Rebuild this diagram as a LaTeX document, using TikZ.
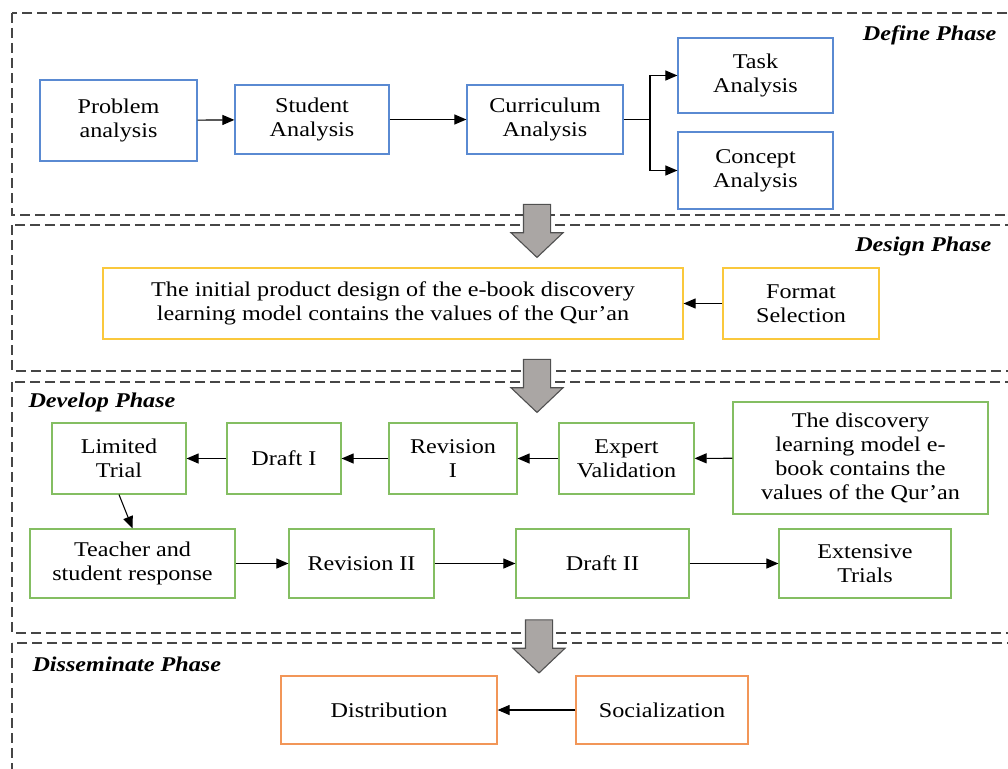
\documentclass[tikz,border=0pt]{standalone}
\usepackage{fontspec}
\setmainfont{Liberation Serif}[FakeStretch=1.15]
\usepackage{xcolor}
\usepackage{tikz}
\usetikzlibrary{shapes,shapes.arrows,arrows.meta,calc,positioning}
\definecolor{defblue}{RGB}{90,138,210}
\definecolor{desyellow}{RGB}{250,200,60}
\definecolor{devgreen}{RGB}{132,190,98}
\definecolor{disorange}{RGB}{242,150,88}
\definecolor{dashgray}{RGB}{70,70,70}
\definecolor{arrowgray}{RGB}{170,166,164}
\definecolor{arrowedge}{RGB}{80,80,80}
\tikzset{
  box/.style={draw, fill=white, align=center, line width=1.2pt, inner sep=2pt, font=\fontsize{21}{24}\selectfont},
  defbox/.style={box, draw=defblue},
  desbox/.style={box, draw=desyellow},
  devbox/.style={box, draw=devgreen},
  disbox/.style={box, draw=disorange},
  phasebox/.style={draw=dashgray, dash pattern=on 10pt off 5pt, line width=1.4pt},
  phase/.style={font=\fontsize{21}{24}\selectfont\bfseries\itshape, inner sep=0pt},
  bigarrow/.style={single arrow, draw=arrowedge, fill=arrowgray, line width=1.1pt, shape border rotate=270,
    minimum height=53pt, minimum width=51pt, single arrow head extend=12.5pt, single arrow tip angle=93, inner sep=13pt}
}
\begin{document}
\begin{tikzpicture}[x=1pt,y=-1pt,>={Triangle[length=12pt,width=10pt]},line width=1.1pt]
    \useasboundingbox (0,0) rectangle (1008,768);
    \clip (0,0) rectangle (1008,768);
    % phase frames
    \draw[phasebox] (12,13) rectangle (1020,215);
    \draw[phasebox] (12,225) rectangle (1020,371);
    \draw[phasebox] (12,382) rectangle (1020,633);
    \draw[phasebox] (12,643) rectangle (1020,790);
    \node[phase,anchor=east] (P1) at (997,35) {Define Phase};
    \node[phase,anchor=east] (P2) at (992,246) {Design Phase};
    \node[phase,anchor=west] (P3) at (28,402) {Develop Phase};
    \node[phase,anchor=west] (P4) at (32,664) {Disseminate Phase};
    % define
    \node (PA) [defbox,minimum width=157pt,minimum height=81pt] at (118.5,120.5) {Problem\\analysis};
    \node (SA) [defbox,minimum width=154pt,minimum height=69pt] at (312,119.5) {Student\\Analysis};
    \node (CA) [defbox,minimum width=156pt,minimum height=69pt] at (545,119.5) {Curriculum\\Analysis};
    \node (TA) [defbox,minimum width=155pt,minimum height=75pt] at (755.5,75.5) {Task\\Analysis};
    \node (KA) [defbox,minimum width=155pt,minimum height=77pt] at (755.5,170.5) {Concept\\Analysis};
    \coordinate (J) at (650,119.5);
    \draw[->] (PA) -- (SA);
    \draw[->] (SA) -- (CA);
    \draw (CA) -- (J);
    \draw[->] (J) |- (TA);
    \draw[->] (J) |- (KA);
    \node (A1) [bigarrow] at (537,224.5) {};
    % design
    \node (IP) [desbox,minimum width=580pt,minimum height=71pt] at (393,303.5) {The initial product design of the e-book discovery\\learning model contains the values of the Qur'an};
    \node (FS) [desbox,minimum width=156pt,minimum height=71pt] at (801,303.5) {Format\\Selection};
    \draw[->] (FS) -- (IP);
    \node (A2) [bigarrow] at (537,379.5) {};
    % develop
    \node (LT) [devbox,minimum width=134pt,minimum height=71pt] at (119,458.5) {Limited\\Trial};
    \node (D1) [devbox,minimum width=114pt,minimum height=71pt] at (284,458.5) {Draft I};
    \node (R1) [devbox,minimum width=128pt,minimum height=71pt] at (453,458.5) {Revision\\I};
    \node (EV) [devbox,minimum width=135pt,minimum height=71pt] at (626.5,458.5) {Expert\\Validation};
    \node (DL) [devbox,minimum width=255pt,minimum height=112pt] at (860.5,458) {The discovery\\learning model e-\\book contains the\\values of the Qur'an};
    \node (TS) [devbox,minimum width=205pt,minimum height=69pt] at (132.5,563.5) {Teacher and\\student response};
    \node (R2) [devbox,minimum width=145pt,minimum height=69pt] at (361.5,563.5) {Revision II};
    \node (D2) [devbox,minimum width=173pt,minimum height=69pt] at (602.5,563.5) {Draft II};
    \node (ET) [devbox,minimum width=172pt,minimum height=69pt] at (865,563.5) {Extensive\\Trials};
    \draw[->] (DL) -- (EV);
    \draw[->] (EV) -- (R1);
    \draw[->] (R1) -- (D1);
    \draw[->] (D1) -- (LT);
    \draw[->] (LT.south) -- (TS.north);
    \draw[->] (TS) -- (R2);
    \draw[->] (R2) -- (D2);
    \draw[->] (D2) -- (ET);
    \node (A3) [bigarrow] at (539,640) {};
    % disseminate
    \node (DI) [disbox,minimum width=216pt,minimum height=68pt] at (389,710) {Distribution};
    \node (SO) [disbox,minimum width=172pt,minimum height=68pt] at (662,710) {Socialization};
    \draw[->] (SO) -- (DI);
\end{tikzpicture}
\end{document}
